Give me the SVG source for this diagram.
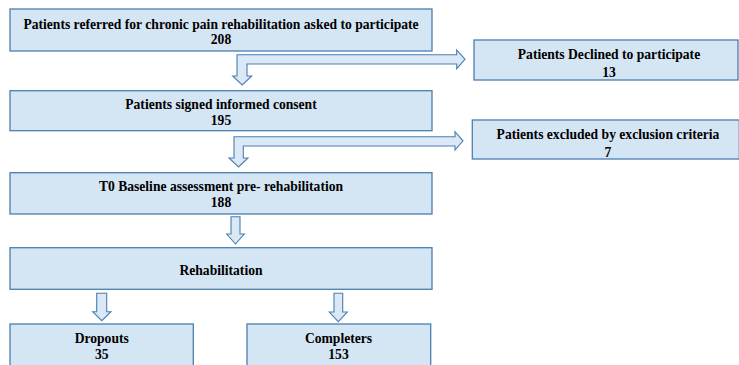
<svg xmlns="http://www.w3.org/2000/svg" width="739" height="365" viewBox="0 0 739 365">
<style>
.box{fill:#d4e5f4;stroke:#4a7fb0;stroke-width:1.3}
.arr{fill:#dbe8f5;stroke:#4a7fb0;stroke-width:1.1;stroke-linejoin:miter}
.t{font-family:'Liberation Serif','Tinos','Times New Roman','Nimbus Roman','DejaVu Serif',serif;font-weight:700;font-size:13.6px;fill:#000;text-anchor:middle}
</style>
<rect width="739" height="365" fill="#fff"/>
<g id="n1"><rect class="box" x="10" y="9" width="422" height="42"/><text class="t" x="221" y="29">Patients referred for chronic pain rehabilitation asked to participate</text><text class="t" x="221" y="44">208</text></g>
<g id="n2"><rect class="box" x="474" y="40" width="264" height="40"/><text class="t" x="609" y="59.2">Patients Declined to participate</text><text class="t" x="609" y="77">13</text></g>
<g id="n3"><rect class="box" x="10" y="90.7" width="422" height="40"/><text class="t" x="221" y="109">Patients signed informed consent</text><text class="t" x="221" y="124.5">195</text></g>
<g id="n4"><rect class="box" x="472.3" y="120" width="267" height="39"/><text class="t" x="608" y="139.2">Patients excluded by exclusion criteria</text><text class="t" x="608" y="156.5">7</text></g>
<g id="n5"><rect class="box" x="10" y="172.7" width="422" height="41.3"/><text class="t" x="221" y="191.3">T0 Baseline assessment pre- rehabilitation</text><text class="t" x="221" y="207.3">188</text></g>
<g id="n6"><rect class="box" x="10" y="247.7" width="422" height="41.6"/><text class="t" x="221" y="274.5">Rehabilitation</text></g>
<g id="n7"><rect class="box" x="10" y="324" width="183.3" height="50"/><text class="t" x="101.7" y="342.8">Dropouts</text><text class="t" x="101.7" y="358.5">35</text></g>
<g id="n8"><rect class="box" x="247" y="324" width="183.7" height="50"/><text class="t" x="338.5" y="342.8">Completers</text><text class="t" x="338.5" y="358.5">153</text></g>
<g id="connectors">
<polygon class="arr" points="237,54.7 456.7,54.7 456.7,50 465,59.3 456.7,68.7 456.7,64 247,64 247,76 251.7,76 242.2,85 232.7,76 237,76"/>
<polygon class="arr" points="234,136.7 455,136.7 455,131.7 463,140.8 455,150 455,146 243.3,146 243.3,158 248,158 238.5,167 229,158 234,158"/>
<polygon class="arr" points="231,216.7 240,216.7 240,234 244.3,234 235.5,244 226.7,234 231,234"/>
<polygon class="arr" points="96.7,293.3 106.7,293.3 106.7,311.7 111,311.7 101.8,320.7 92.7,311.7 96.7,311.7"/>
<polygon class="arr" points="334,293.3 342.7,293.3 342.7,312 347.3,312 338.3,321.7 329.3,312 334,312"/>
</g>
</svg>
